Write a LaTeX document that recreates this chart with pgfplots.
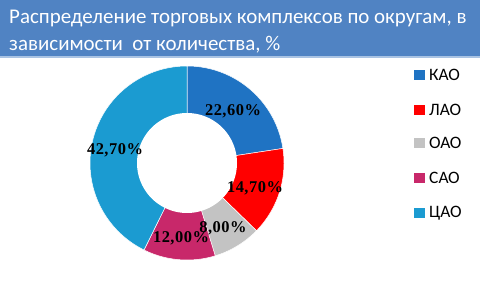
\documentclass[border=0pt]{standalone}
\usepackage{fontspec}
\setmainfont{Carlito}
\newfontfamily\labfont[LetterSpace=3]{Liberation Serif}
\usepackage{pgfplots}
\pgfplotsset{compat=1.18}
\definecolor{kao}{HTML}{1F73C3}
\definecolor{lao}{HTML}{FF0000}
\definecolor{oao}{HTML}{C3C3C3}
\definecolor{sao}{HTML}{C8286A}
\definecolor{cao}{HTML}{1B9BD1}
\definecolor{band}{HTML}{5083C3}
\definecolor{bandline}{HTML}{A9C3E3}
\def\cx{187}\def\cy{117}\def\R{97}\def\r{50}
\begin{document}
\begin{tikzpicture}
\begin{axis}[scale only axis, width=480bp, height=280bp,
  xmin=0, xmax=480, ymin=0, ymax=280, hide axis, clip=false]
\fill[white] (axis cs:0,0) rectangle (axis cs:480,280);
\fill[band] (axis cs:0,224) rectangle (axis cs:480,280);
\fill[bandline] (axis cs:0,222) rectangle (axis cs:480,224);
\node[anchor=base west, text=white, font=\fontsize{21}{21}\selectfont, inner sep=0pt] at (axis cs:9,257) {Распределение торговых комплексов по округам, в};
\node[anchor=base west, text=white, font=\fontsize{21}{21}\selectfont, inner sep=0pt] at (axis cs:9,230) {зависимости\ \ от количества, \%};
% slices: КАО 22.6, ЛАО 14.7, ОАО 8.0, САО 12.0, ЦАО 42.7
\addplot[fill=kao, draw=white, line width=0.5pt, domain={90-3.6*22.6}:90, samples=60]
  ({\cx+\R*cos(x)},{\cy+\R*sin(x)}) -- (axis cs:\cx,\cy) -- cycle;
\addplot[fill=lao, draw=white, line width=0.5pt, domain={90-3.6*(22.6+14.7)}:{90-3.6*22.6}, samples=60]
  ({\cx+\R*cos(x)},{\cy+\R*sin(x)}) -- (axis cs:\cx,\cy) -- cycle;
\addplot[fill=oao, draw=white, line width=0.5pt, domain={90-3.6*(22.6+14.7+8.0)}:{90-3.6*(22.6+14.7)}, samples=40]
  ({\cx+\R*cos(x)},{\cy+\R*sin(x)}) -- (axis cs:\cx,\cy) -- cycle;
\addplot[fill=sao, draw=white, line width=0.5pt, domain={90-3.6*(22.6+14.7+8.0+12.0)}:{90-3.6*(22.6+14.7+8.0)}, samples=40]
  ({\cx+\R*cos(x)},{\cy+\R*sin(x)}) -- (axis cs:\cx,\cy) -- cycle;
\addplot[fill=cao, draw=white, line width=0.5pt, domain={90-3.6*(22.6+14.7+8.0+12.0+42.7)}:{90-3.6*(22.6+14.7+8.0+12.0)}, samples=100]
  ({\cx+\R*cos(x)},{\cy+\R*sin(x)}) -- (axis cs:\cx,\cy) -- cycle;
\addplot[fill=white, draw=none, domain=0:360, samples=120]
  ({\cx+\r*cos(x)},{\cy+\r*sin(x)}) -- cycle;
% data labels
\begin{scope}[every node/.style={font=\labfont\bfseries\fontsize{16.5}{16.5}\selectfont, text=black, inner sep=0pt}]
\node at (axis cs:233,169) {22,60\%};
\node at (axis cs:255,92) {14,70\%};
\node at (axis cs:223,52) {8,00\%};
\node at (axis cs:181,42) {12,00\%};
\node at (axis cs:115,130) {42,70\%};
\end{scope}
% legend
\begin{scope}[every node/.style={anchor=west, font=\fontsize{17.5}{17.5}\selectfont, inner sep=0pt}]
\fill[kao] (axis cs:414,200) rectangle (axis cs:424.5,210);
\node at (axis cs:429,205) {КАО};
\fill[lao] (axis cs:414,165) rectangle (axis cs:424.5,175);
\node at (axis cs:429,170) {ЛАО};
\fill[oao] (axis cs:414,132) rectangle (axis cs:424.5,142);
\node at (axis cs:429,137) {ОАО};
\fill[sao] (axis cs:414,97) rectangle (axis cs:424.5,107);
\node at (axis cs:429,102) {САО};
\fill[cao] (axis cs:414,62) rectangle (axis cs:424.5,72);
\node at (axis cs:429,67) {ЦАО};
\end{scope}
\end{axis}
\end{tikzpicture}
\end{document}
